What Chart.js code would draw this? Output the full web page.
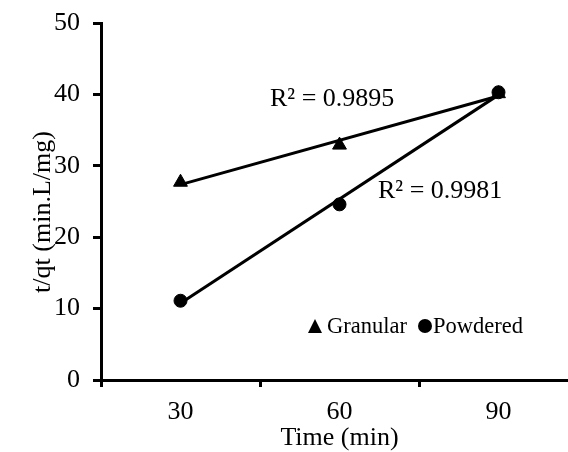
<!DOCTYPE html>
<html>
<head>
<meta charset="utf-8">
<script src="https://cdn.jsdelivr.net/npm/chart.js@4"></script>
<style>
body{margin:0;background:#fff;overflow:hidden}
</style>
</head>
<body>
<canvas id="myChart" width="590" height="454"></canvas>
<script>
const times = [30, 60, 90]
const granular = [27.7, 32.9, 40.1]
const powdered = [11.1, 24.6, 40.3]
const seriesNames = ['Granular', 'Powdered']
const r2Labels = ['R² = 0.9895', 'R² = 0.9981']
const xTicks = [15, 30, 45, 60, 75, 90, 105]
const yTitle = 't/qt (min.L/mg)'
const FONT = '"Liberation Serif", "Times New Roman", serif'

// least squares trendline, like Excel's linear trendline
function fitLine(xs, ys){
    const n = xs.length
    const mx = xs.reduce((a, b) => a + b, 0) / n
    const my = ys.reduce((a, b) => a + b, 0) / n
    let sxy = 0, sxx = 0
    xs.forEach((x, i) => { sxy += (x - mx) * (ys[i] - my); sxx += (x - mx) ** 2 })
    const slope = sxy / sxx
    const icpt = my - slope * mx
    return [xs[0], xs[n - 1]].map(x => ({x: x, y: icpt + slope * x}))
}

const toPoints = ys => times.map((t, i) => ({x: t, y: ys[i]}))

const annotate = {
    id: 'annotate',
    afterDatasetsDraw(chart){
        const ctx = chart.ctx
        ctx.save()
        ctx.fillStyle = '#000'
        ctx.textBaseline = 'middle'
        ctx.font = '26px ' + FONT
        ctx.fillText(r2Labels[0], 270, 99)
        ctx.fillText(r2Labels[1], 378, 191)

        // axis title, rotated
        ctx.save()
        ctx.translate(43, 212)
        ctx.rotate(-Math.PI / 2)
        ctx.textAlign = 'center'
        ctx.fillText(yTitle, 0, 0)
        ctx.restore()

        ctx.font = '22.5px ' + FONT
        ctx.beginPath()
        ctx.moveTo(315, 319)
        ctx.lineTo(322, 333)
        ctx.lineTo(308, 333)
        ctx.closePath()
        ctx.fill()
        ctx.fillText(seriesNames[0], 327, 327)
        ctx.beginPath()
        ctx.arc(425, 326, 7, 0, Math.PI * 2)
        ctx.fill()
        ctx.fillText(seriesNames[1], 433, 327)
        ctx.restore()
    }
}

const config = {
    type: 'scatter',
    data: {
        datasets: [
            {
                label: seriesNames[1],
                data: toPoints(powdered),
                pointStyle: 'circle',
                pointRadius: 6.5,
                pointBorderWidth: 1,
                backgroundColor: '#000',
                borderColor: '#000'
            },
            {
                label: seriesNames[0],
                data: toPoints(granular),
                pointStyle: 'triangle',
                pointRadius: 8,
                pointBorderWidth: 1,
                backgroundColor: '#000',
                borderColor: '#000'
            },
            {
                type: 'line',
                data: fitLine(times, granular),
                showLine: true,
                pointRadius: 0,
                borderColor: '#000',
                borderWidth: 3
            },
            {
                type: 'line',
                data: fitLine(times, powdered),
                showLine: true,
                pointRadius: 0,
                borderColor: '#000',
                borderWidth: 3
            }
        ]
    },
    options: {
        responsive: false,
        animation: false,
        layout: {padding: {top: 23, right: 12, left: 0, bottom: 0}},
        plugins: {legend: {display: false}, tooltip: {enabled: false}},
        scales: {
            x: {
                type: 'linear',
                min: 15,
                max: 105,
                afterBuildTicks: s => { s.ticks = xTicks.map(v => ({value: v})) },
                afterFit: s => { s.height = 74 },
                border: {color: '#000', width: 3},
                grid: {
                    drawOnChartArea: false,
                    tickLength: 7,
                    lineWidth: 3,
                    color: c => (c.tick && c.tick.value % 30 === 0) ? 'rgba(0,0,0,0)' : '#000'
                },
                ticks: {
                    autoSkip: false,
                    maxRotation: 0,
                    padding: 10,
                    color: '#000',
                    font: {family: FONT, size: 26},
                    callback: v => v % 30 === 0 ? v : ''
                },
                title: {
                    display: true,
                    text: 'Time (min)',
                    color: '#000',
                    font: {family: FONT, size: 26},
                    padding: 0
                }
            },
            y: {
                min: 0,
                max: 50,
                afterFit: s => { s.width = 101 },
                border: {color: '#000', width: 3},
                grid: {drawOnChartArea: false, tickLength: 8, lineWidth: 3, color: '#000'},
                ticks: {
                    stepSize: 10,
                    padding: 13,
                    color: '#000',
                    font: {family: FONT, size: 26, lineHeight: 0.6}
                }
            }
        }
    },
    plugins: [annotate]
}

new Chart(document.getElementById('myChart'), config)
</script>
</body>
</html>
